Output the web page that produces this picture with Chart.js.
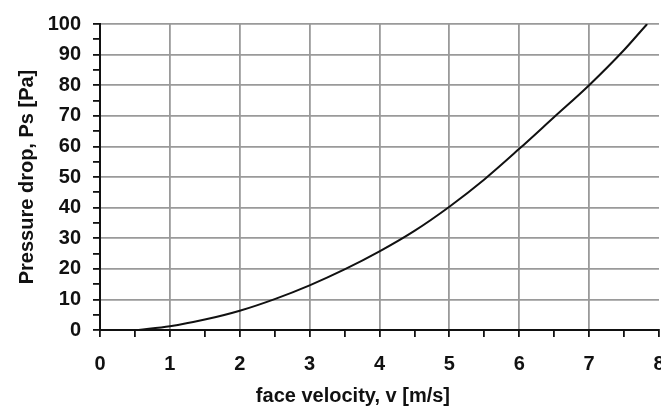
<!DOCTYPE html>
<html>
<head>
<meta charset="utf-8">
<script src="https://cdn.jsdelivr.net/npm/chart.js@4"></script>
<style>
  html, body { margin: 0; padding: 0; background: #fff; overflow: hidden; }
  .wrap { width: 680px; height: 407px; }
</style>
</head>
<body>
<div class="wrap"><canvas id="pressureChart"></canvas></div>
<script>
// Data
const velocity = [0.55, 1, 1.5, 2, 2.5, 3, 3.5, 4, 4.5, 5, 5.5, 6, 6.5, 7, 7.5, 7.83];
const pressureDrop = [0, 1.2, 3.4, 6.3, 10.1, 14.6, 19.8, 25.7, 32.4, 40.3, 49.2, 59.2, 69.6, 80.0, 91.5, 100];
const xTicks = [0, 1, 2, 3, 4, 5, 6, 7, 8];
const yTicks = [0, 10, 20, 30, 40, 50, 60, 70, 80, 90, 100];
const xTitle = "face velocity, v [m/s]";
const yTitle = "Pressure drop, Ps [Pa]";

const fontFamily = "'Liberation Sans', Arial, sans-serif";
const font = { family: fontFamily, weight: "bold" };
const gridGray = "#9a9a9a";

const points = velocity.map((v, i) => ({ x: v, y: pressureDrop[i] }));

// x title sits left of the plot centre in the original (the figure was cropped on the right)
const xTitlePlugin = {
  id: "xTitle",
  afterDraw(chart) {
    const { ctx, scales } = chart;
    ctx.save();
    ctx.font = "bold 20px " + fontFamily;
    ctx.fillStyle = "#111";
    ctx.textAlign = "center";
    ctx.textBaseline = "middle";
    ctx.fillText(xTitle, scales.x.getPixelForValue(3.62), 396);
    ctx.restore();
  },
};

const pressureChartCtx = document.getElementById("pressureChart").getContext("2d");
new Chart(pressureChartCtx, {
  type: "scatter",
  data: {
    datasets: [
      {
        data: points,
        showLine: true,
        borderColor: "#111",
        borderWidth: 2,
        pointRadius: 0,
        tension: 0.4,
        cubicInterpolationMode: "monotone",
      },
    ],
  },
  plugins: [xTitlePlugin],
  options: {
    responsive: true,
    maintainAspectRatio: false,
    animation: false,
    layout: { padding: { top: 22, right: 21, left: 0, bottom: 0 } },
    plugins: { legend: { display: false }, tooltip: { enabled: false } },
    scales: {
      x: {
        type: "linear",
        min: 0,
        max: 8,
        afterBuildTicks: (scale) => {
          const t = [];
          for (let v = 0; v <= 8; v += 0.5) t.push({ value: v });
          scale.ticks = t;
        },
        afterFit: (scale) => { scale.height = 77; },
        grid: {
          color: (c) => (c.tick && (c.tick.value % 1 !== 0 || c.tick.value === 8) ? "transparent" : gridGray),
          lineWidth: 1.8,
          tickColor: "#111",
          tickLength: 7,
        },
        border: { color: "#111", width: 2 },
        ticks: {
          autoSkip: false,
          maxRotation: 0,
          color: "#111",
          padding: 15,
          font: { ...font, size: 20 },
          callback: (v) => (xTicks.includes(v) ? String(v) : ""),
        },
      },
      y: {
        min: 0,
        max: 100,
        afterBuildTicks: (scale) => {
          const t = [];
          for (let v = 0; v <= 100; v += 5) t.push({ value: v });
          scale.ticks = t;
        },
        afterFit: (scale) => { scale.width = 100; },
        grid: {
          color: (c) => (c.tick && c.tick.value % 10 !== 0 ? "transparent" : gridGray),
          lineWidth: 1.8,
          tickColor: "#111",
          tickLength: 7,
        },
        border: { color: "#111", width: 2 },
        ticks: {
          autoSkip: false,
          color: "#111",
          padding: 12,
          font: { ...font, size: 20 },
          callback: (v) => (yTicks.includes(v) ? String(v) : ""),
        },
        title: {
          display: true,
          text: yTitle,
          color: "#111",
          font: { ...font, size: 20 },
          padding: { top: 15, bottom: 0 },
        },
      },
    },
  },
});
</script>
</body>
</html>
